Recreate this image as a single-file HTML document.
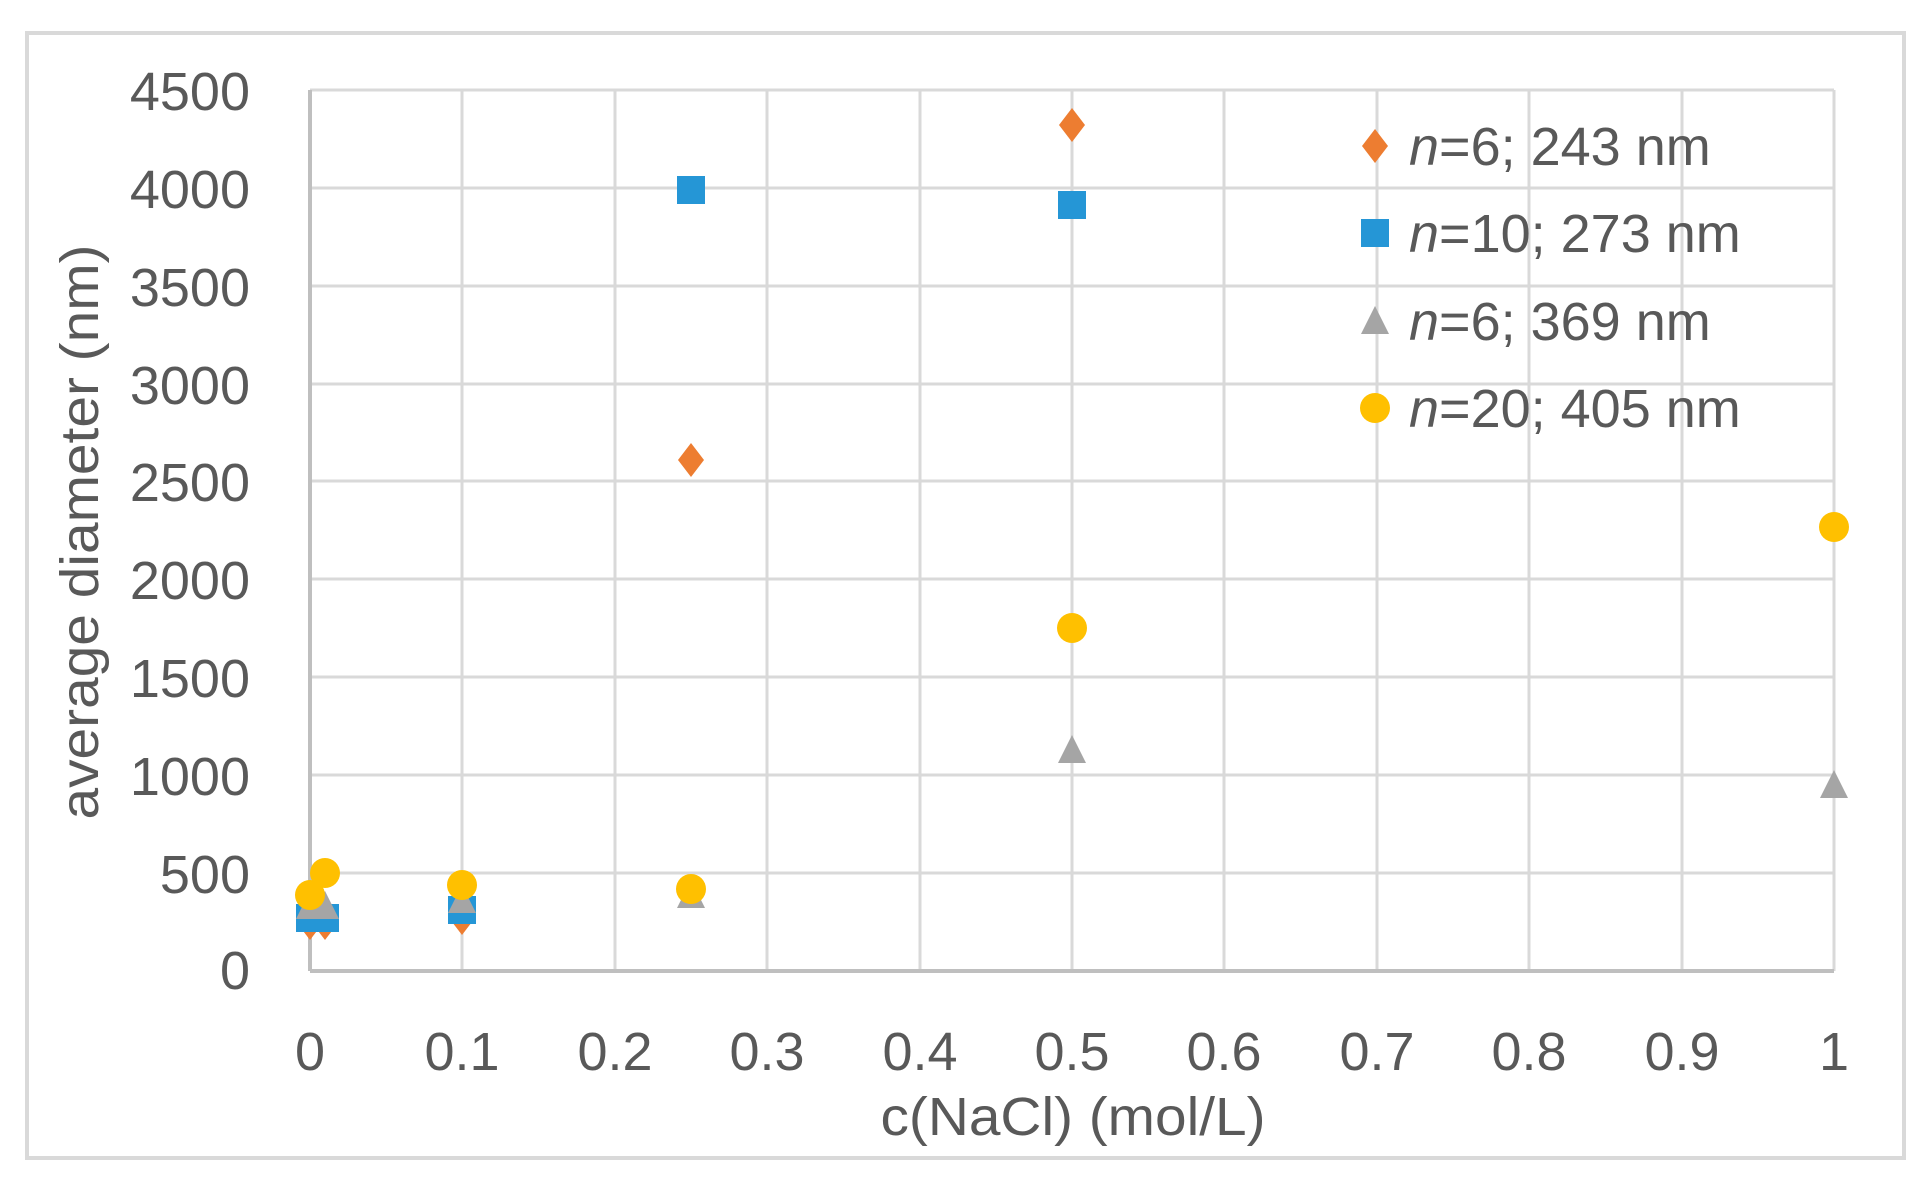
<!DOCTYPE html>
<html><head><meta charset="utf-8"><style>
html,body{margin:0;padding:0;background:#fff;}
svg{display:block;}
text{font-family:"Liberation Sans",sans-serif;fill:#595959;}
</style></head><body>
<svg width="1931" height="1200" xmlns="http://www.w3.org/2000/svg">
<rect x="27" y="33" width="1877" height="1125" fill="#fff" stroke="#d9d9d9" stroke-width="4"/>
<g stroke="#d9d9d9" stroke-width="3">
<line x1="310" y1="90" x2="1834" y2="90"/>
<line x1="310" y1="188" x2="1834" y2="188"/>
<line x1="310" y1="286" x2="1834" y2="286"/>
<line x1="310" y1="384" x2="1834" y2="384"/>
<line x1="310" y1="481" x2="1834" y2="481"/>
<line x1="310" y1="579" x2="1834" y2="579"/>
<line x1="310" y1="677" x2="1834" y2="677"/>
<line x1="310" y1="775" x2="1834" y2="775"/>
<line x1="310" y1="873" x2="1834" y2="873"/>
<line x1="462" y1="90" x2="462" y2="971"/>
<line x1="615" y1="90" x2="615" y2="971"/>
<line x1="767" y1="90" x2="767" y2="971"/>
<line x1="920" y1="90" x2="920" y2="971"/>
<line x1="1072" y1="90" x2="1072" y2="971"/>
<line x1="1224" y1="90" x2="1224" y2="971"/>
<line x1="1377" y1="90" x2="1377" y2="971"/>
<line x1="1529" y1="90" x2="1529" y2="971"/>
<line x1="1682" y1="90" x2="1682" y2="971"/>
<line x1="1834" y1="90" x2="1834" y2="971"/>
</g>
<g stroke="#bfbfbf" stroke-width="4">
<line x1="310" y1="90" x2="310" y2="971"/>
<line x1="310" y1="971" x2="1834" y2="971"/>
</g>
<g font-size="54" text-anchor="end">
<text x="250" y="110">4500</text>
<text x="250" y="208">4000</text>
<text x="250" y="306">3500</text>
<text x="250" y="404">3000</text>
<text x="250" y="501">2500</text>
<text x="250" y="599">2000</text>
<text x="250" y="697">1500</text>
<text x="250" y="795">1000</text>
<text x="250" y="893">500</text>
<text x="250" y="989">0</text>
</g>
<g font-size="54" text-anchor="middle">
<text x="310" y="1070">0</text>
<text x="462" y="1070">0.1</text>
<text x="615" y="1070">0.2</text>
<text x="767" y="1070">0.3</text>
<text x="920" y="1070">0.4</text>
<text x="1072" y="1070">0.5</text>
<text x="1224" y="1070">0.6</text>
<text x="1377" y="1070">0.7</text>
<text x="1529" y="1070">0.8</text>
<text x="1682" y="1070">0.9</text>
<text x="1834" y="1070">1</text>
<text x="1073" y="1135" textLength="385" lengthAdjust="spacingAndGlyphs">c(NaCl) (mol/L)</text>
<text transform="translate(98,532) rotate(-90)" textLength="575" lengthAdjust="spacingAndGlyphs">average diameter (nm)</text>
</g>
<defs>
<path id="dia" d="M0,-17 L13,0 L0,17 L-13,0Z" fill="#ed7d31"/>
<rect id="sq" x="-14" y="-14" width="28" height="28" fill="#2596d6"/>
<path id="tri" d="M0,-15 L14,13 L-14,13Z" fill="#a5a5a5"/>
<circle id="ci" r="15" fill="#ffc000"/>
</defs>
<use href="#dia" x="310" y="923"/><use href="#dia" x="325" y="923"/><use href="#dia" x="462" y="918"/><use href="#dia" x="691" y="460"/><use href="#dia" x="1072" y="125"/>
<use href="#sq" x="310" y="918"/><use href="#sq" x="325" y="918"/><use href="#sq" x="462" y="910"/><use href="#sq" x="691" y="190"/><use href="#sq" x="1072" y="205"/>
<use href="#tri" x="310" y="906"/><use href="#tri" x="325" y="906"/><use href="#tri" x="462" y="900"/><use href="#tri" x="691" y="895"/><use href="#tri" x="1072" y="750"/><use href="#tri" x="1834" y="785"/>
<use href="#ci" x="310" y="895"/><use href="#ci" x="325" y="873"/><use href="#ci" x="462" y="885"/><use href="#ci" x="691" y="889"/><use href="#ci" x="1072" y="628"/><use href="#ci" x="1834" y="527"/>
<use href="#dia" x="1375" y="146"/><use href="#sq" x="1375" y="233"/><use href="#tri" x="1375" y="321"/><use href="#ci" x="1375" y="408"/>
<g font-size="54">
<text x="1409" y="165"><tspan font-style="italic">n</tspan>=6; 243 nm</text>
<text x="1409" y="252"><tspan font-style="italic">n</tspan>=10; 273 nm</text>
<text x="1409" y="340"><tspan font-style="italic">n</tspan>=6; 369 nm</text>
<text x="1409" y="427"><tspan font-style="italic">n</tspan>=20; 405 nm</text>
</g>
</svg>
</body></html>
